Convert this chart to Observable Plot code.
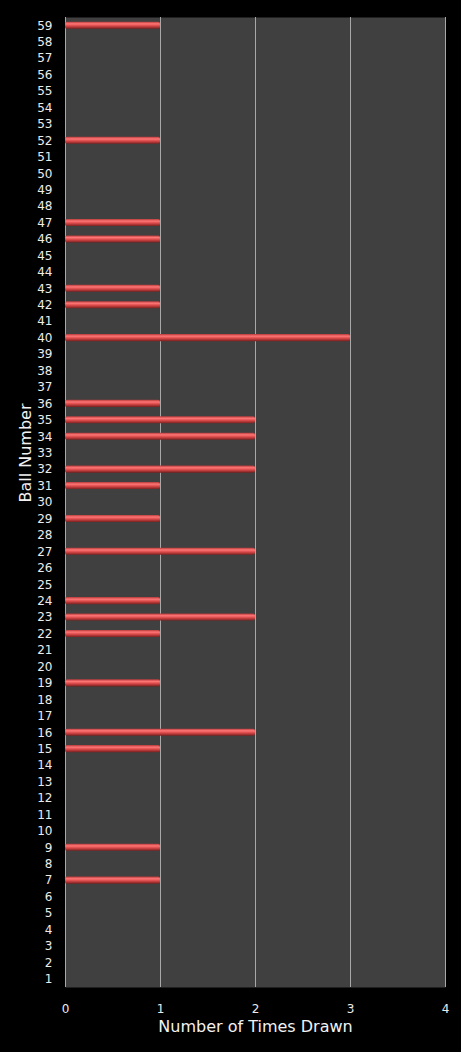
<!DOCTYPE html>
<html>
<head>
<meta charset="utf-8">
<script src="https://cdn.jsdelivr.net/npm/d3@7"></script>
<script src="https://cdn.jsdelivr.net/npm/@observablehq/plot@0.6"></script>
<style>
  html, body { margin: 0; padding: 0; background: #000; }
  #chart svg { display: block; }
</style>
</head>
<body>
<div id="chart"></div>
<script>
// Ball numbers 1..59 (y axis) and how many times each was drawn
const balls = d3.range(1, 60)
const drawnBalls = [59, 52, 47, 46, 43, 42, 40, 36, 35, 34, 32, 31, 29, 27, 24, 23, 22, 19, 16, 15, 9, 7]
const timesDrawn = [1, 1, 1, 1, 1, 1, 3, 1, 2, 2, 2, 1, 1, 2, 1, 2, 1, 1, 2, 1, 1, 1]
const xTicks = [0, 1, 2, 3, 4]

const data = drawnBalls.map((b, i) => ({ball: b, times: timesDrawn[i]}))

let chart = Plot.plot({
  width: 461,
  height: 1052,
  marginTop: 17,
  marginBottom: 65,
  marginLeft: 65,
  marginRight: 16,
  style: {background: "#000", color: "#ececec", fontFamily: "DejaVu Sans", fontSize: "12px"},
  x: {domain: [0, 4], ticks: xTicks, tickFormat: "d"},
  y: {domain: balls.slice().reverse(), paddingInner: 0.57, paddingOuter: 0.285, round: false},
  marks: [
    Plot.frame({fill: "#404040", stroke: null}),
    Plot.ruleX(xTicks, {stroke: "#a8a8a8", strokeWidth: 1}),
    Plot.barX(data, {x: "times", y: "ball", fill: "url(#barGrad)", rx: 2}),
    Plot.axisX({ticks: xTicks, tickFormat: "d", tickSize: 0, tickPadding: 17, label: null, fill: "#ececec"}),
    Plot.axisY({tickSize: 0, tickPadding: 13, label: null, fill: "#ececec"}),
    Plot.text(["Ball Number"], {frameAnchor: "left", rotate: -90, dx: -40, fontSize: 16, fill: "#f2f2f2"}),
    Plot.text(["Number of Times Drawn"], {frameAnchor: "bottom", dy: 44, fontSize: 16, fill: "#f2f2f2"})
  ]
})

// vertical gradient to get the shiny bar look
const defs = d3.select(chart).insert("defs", ":first-child")
const grad = defs.append("linearGradient").attr("id", "barGrad")
  .attr("x1", 0).attr("y1", 0).attr("x2", 0).attr("y2", 1)
grad.append("stop").attr("offset", "0%").attr("stop-color", "#b83a3a")
grad.append("stop").attr("offset", "30%").attr("stop-color", "#ff7676")
grad.append("stop").attr("offset", "60%").attr("stop-color", "#d84848")
grad.append("stop").attr("offset", "100%").attr("stop-color", "#7a2020")

d3.select('#chart').append(() => chart)
</script>
</body>
</html>
